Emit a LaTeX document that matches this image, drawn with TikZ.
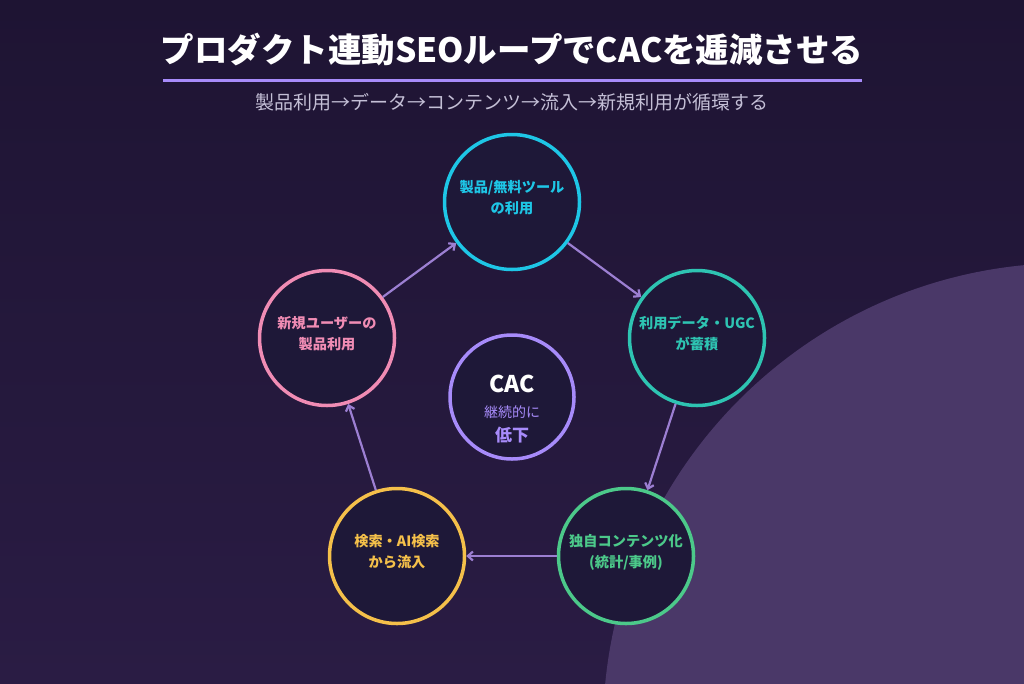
\documentclass[tikz,border=0pt]{standalone}
\usepackage{fontspec}
\setmainfont{Noto Sans CJK JP}
\usetikzlibrary{arrows.meta}
\definecolor{bgtop}{HTML}{1E1433}
\definecolor{bgbot}{HTML}{2A1C44}
\definecolor{blob}{HTML}{4A3868}
\definecolor{nodefill}{HTML}{1E1838}
\definecolor{lav}{HTML}{A78BFA}
\definecolor{subgray}{HTML}{C4BFD6}
\definecolor{arrowc}{HTML}{9C7FD2}
\definecolor{cCyan}{HTML}{1EC6E6}
\definecolor{cTeal}{HTML}{2EC4B2}
\definecolor{cGreen}{HTML}{4CC98A}
\definecolor{cYellow}{HTML}{F5C04A}
\definecolor{cPink}{HTML}{F08CB4}
\tikzset{
  stage/.style={circle,draw=#1,line width=3.5pt,fill=nodefill,minimum size=135pt,
    inner sep=0pt,align=center,text=#1,font=\fontsize{14.2}{21}\selectfont\bfseries},
  flow/.style={draw=arrowc,line width=2.2pt,-{Straight Barb[length=5pt,width=9pt]}}
}
\begin{document}
\begin{tikzpicture}[x=1pt,y=-1pt]
\useasboundingbox (0,0) rectangle (1024,683);
\shade[top color=bgtop,bottom color=bgbot] (0,0) rectangle (1024,683);
\begin{scope}
  \clip (0,0) rectangle (1024,683);
  \fill[blob] (1069,729) circle[radius=466];
\end{scope}
\node[text=white,font=\fontsize{33.5}{34}\selectfont\bfseries] (title) at (512,50)
  {プロダクト連動SEOループでCACを逓減させる};
\draw[lav,line width=3pt] (163,80) -- (862,80);
\node[text=subgray,font=\fontsize{19}{19}\selectfont] (sub) at (512,102)
  {製品利用→データ→コンテンツ→流入→新規利用が循環する};
\foreach \n/\x/\y/\c/\lab in {%
  use/512/202/cCyan/{製品/無料ツール\\の利用},
  data/697/338/cTeal/{利用データ・UGC\\が蓄積},
  cont/626/556/cGreen/{独自コンテンツ化\\(統計/事例)},
  srch/397/556/cYellow/{検索・AI検索\\から流入},
  newu/327/338/cPink/{新規ユーザーの\\製品利用}}
  {\node[stage=\c] (\n) at (\x,\y) {\lab\rule[-10pt]{0pt}{10pt}};}
\node[circle,draw=lav,line width=3.5pt,fill=nodefill,minimum size=124pt,inner sep=0pt,
  align=center,text=lav,font=\fontsize{14}{24.5}\selectfont] (cac) at (512,397)
  {\rule{0pt}{42pt}{\fontsize{23}{23}\selectfont\bfseries\color{white}CAC}\\
   継続的に\\
   {\fontsize{17}{20}\selectfont\bfseries 低下}};
\foreach \a/\b in {use/data, data/cont, cont/srch, srch/newu, newu/use}
  \draw[flow] (\a) -- (\b);
\end{tikzpicture}
\end{document}
